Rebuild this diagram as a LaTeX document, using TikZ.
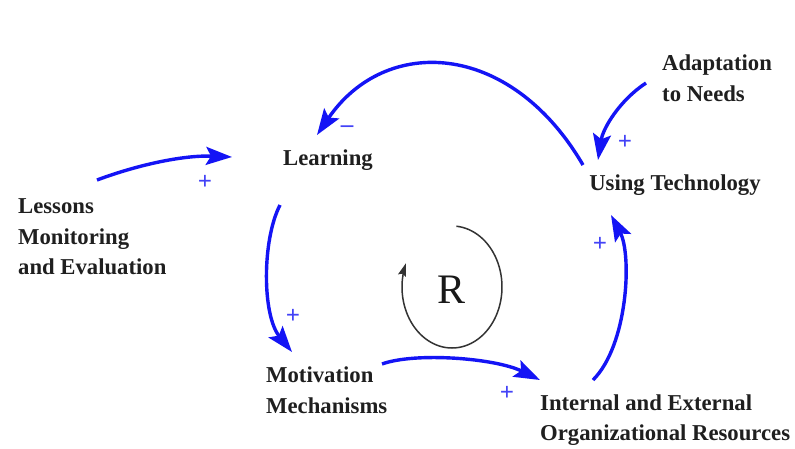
\documentclass[tikz,border=0pt]{standalone}
\usepackage{fontspec}
\setmainfont{Liberation Serif}
\usetikzlibrary{arrows.meta}
\definecolor{loopblue}{RGB}{20,20,245}
\begin{document}
\begin{tikzpicture}[x=1pt,y=-1pt,
  lbl/.style={font=\fontsize{22.7}{30.5}\selectfont\bfseries, inner sep=0pt, align=left, text=black!88},
  sgn/.style={font=\fontsize{25}{25}\selectfont\bfseries, text=loopblue!80, inner sep=0pt},
  flow/.style={draw=loopblue, line width=3.4pt, -{Stealth[length=26pt,width=18pt,inset=5pt]}},
  rloop/.style={draw=black!80, line width=1.5pt, -{Stealth[length=13pt,width=8pt,inset=2pt]}}]
\useasboundingbox (0,0) rectangle (795,448);
\fill[white] (0,0) rectangle (795,448);

% nodes
\node[lbl] (learn) at (328,160) {Learning};
\node[lbl] (tech) at (675,185) {Using Technology};
\node[lbl, anchor=west] (adapt) at (662,78) {Adaptation\\to Needs};
\node[lbl, anchor=west] (lessons) at (18,237) {Lessons\\Monitoring\\and Evaluation};
\node[lbl, anchor=west] (motiv) at (266,390) {Motivation\\Mechanisms};
\node[lbl, anchor=west] (res) at (540,420) {Internal and External\\Organizational Resources};
\node[font=\fontsize{42}{42}\selectfont, inner sep=0pt, text=black!90] (R) at (452,290) {R};

% connectors
\draw[flow] ([shift={(79,-57)}]lessons.west) .. controls (140,164) and (185,155) .. ([shift={(-96,-3)}]learn.center);
\draw[flow] ([shift={(-92,-20)}]tech.center) .. controls (510,40) and (385,35) .. ([shift={(-11,-25)}]learn.center);
\draw[flow] ([shift={(-16,5)}]adapt.west) .. controls (620,100) and (603,128) .. ([shift={(-77,-25)}]tech.center);
\draw[flow] ([shift={(-48,45)}]learn.center) .. controls (262,240) and (262,315) .. ([shift={(26,-38)}]motiv.west);
\draw[flow] ([shift={(116,-26)}]motiv.west) .. controls (415,352) and (495,358) .. ([shift={(0,-40)}]res.west);
\draw[flow] ([shift={(53,-40)}]res.west) .. controls (628,345) and (632,255) .. ([shift={(-64,30)}]tech.center);

% R loop
\begin{scope}[shift={(R.center)}]
\draw[rloop] plot[domain=-85:203, samples=80, smooth, variable=\t] ({50*cos(\t)}, {-3+61*sin(\t)});
\end{scope}

% signs
\node[sgn] (s1) at (205,182) {+};
\node[sgn] (s2) at (347,129) {–};
\node[sgn] (s3) at (625,142) {+};
\node[sgn] (s4) at (293,316) {+};
\node[sgn] (s5) at (507,393) {+};
\node[sgn] (s6) at (600,244) {+};
\end{tikzpicture}
\end{document}
